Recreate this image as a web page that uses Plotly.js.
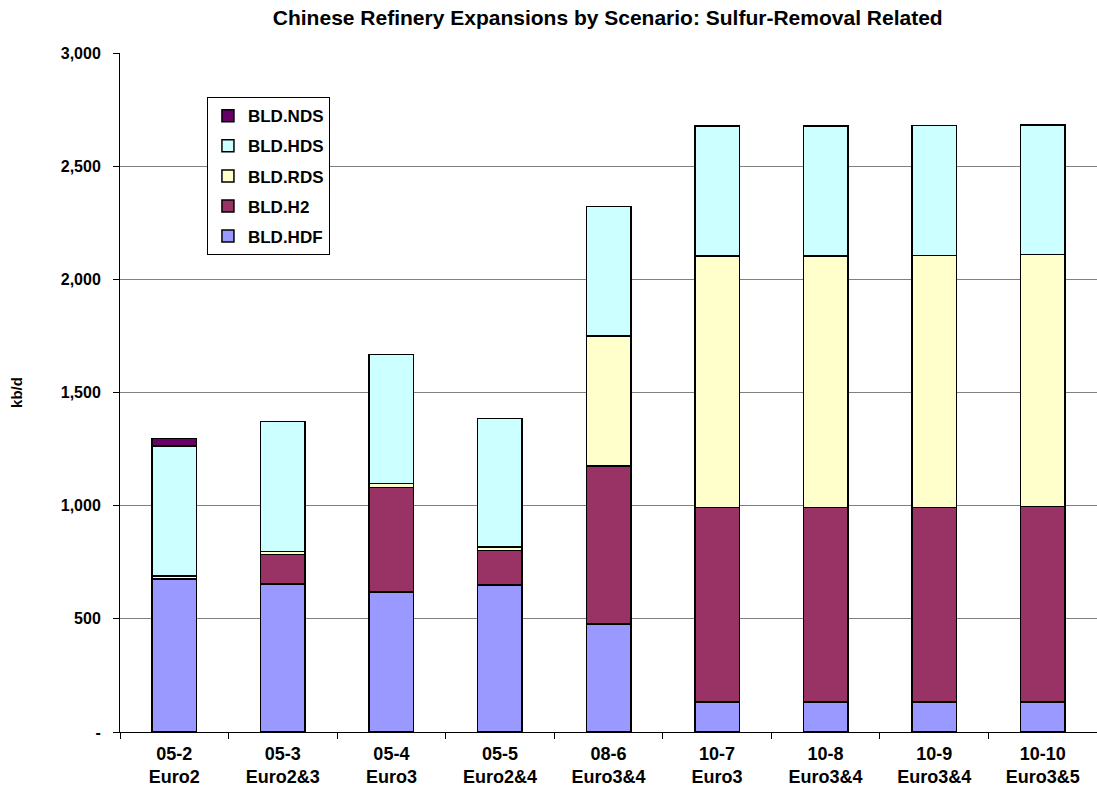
<!DOCTYPE html>
<html>
<head>
<meta charset="utf-8">
<script src="https://cdn.plot.ly/plotly-3.0.1.min.js"></script>
<style>html,body{margin:0;padding:0;background:#fff;}#chart{width:1097px;height:802px;}</style>
</head>
<body>
<div id="chart"></div>
<script>
const categories = ["05-2<br>Euro2","05-3<br>Euro2&3","05-4<br>Euro3","05-5<br>Euro2&4","08-6<br>Euro3&4","10-7<br>Euro3","10-8<br>Euro3&4","10-9<br>Euro3&4","10-10<br>Euro3&5"];
const bldHDF = [675, 655, 618, 649, 478, 132, 132, 132, 132];
const bldH2  = [4, 130, 462, 153, 697, 859, 859, 860, 865];
const bldRDS = [10, 13, 17, 15, 574, 1112, 1112, 1113, 1113];
const bldHDS = [574, 573, 572, 569, 573, 575, 575, 575, 572];
const bldNDS = [33, 0, 0, 0, 0, 0, 0, 0, 0];
const yTickVals = [0, 500, 1000, 1500, 2000, 2500, 3000];
const yTickText = ["-", "500", "1,000", "1,500", "2,000", "2,500", "3,000"];

const FONT = "Liberation Sans, Arial, sans-serif";
function tr(name, y, color, grp, rank) {
  return {type: "bar", name: name, x: categories, y: y, legendgroup: grp, legendrank: rank,
    marker: {color: color, line: {color: "#000", width: 1.5}}, hoverinfo: "y+name"};
}
const data = [
  tr("BLD.HDF", bldHDF, "#9999FF", "a", 5),
  tr("BLD.H2", bldH2, "#993366", "b", 4),
  tr("BLD.RDS", bldRDS, "#FFFFCC", "c", 3),
  tr("BLD.HDS", bldHDS, "#CCFFFF", "d", 2),
  tr("BLD.NDS", bldNDS, "#660066", "e", 1)
];
const layout = {
  width: 1097, height: 802,
  paper_bgcolor: "#fff", plot_bgcolor: "#fff",
  barmode: "stack", bargap: 0.59,
  margin: {l: 120, r: 0, t: 53, b: 70},
  font: {family: FONT, color: "#000", size: 15, weight: "bold"},
  title: {text: "Chinese Refinery Expansions by Scenario: Sulfur-Removal Related",
    font: {family: FONT, size: 21, weight: "bold", color: "#000"},
    x: 0.554, xanchor: "center", y: 0.978, yanchor: "middle"},
  xaxis: {type: "category", tickson: "boundaries", ticks: "outside", ticklen: 6,
    tickcolor: "#000", showline: true, linecolor: "#000", linewidth: 1,
    ticklabelstandoff: 5,
    tickfont: {family: FONT, size: 18, weight: "bold"}, showgrid: false},
  yaxis: {range: [0, 3000], tickvals: yTickVals, ticktext: yTickText,
    ticks: "outside", ticklen: 6, tickcolor: "#000", showline: true, linecolor: "#000",
    linewidth: 1, showgrid: true, gridcolor: "#808080", gridwidth: 1, zeroline: false,
    ticklabelstandoff: 9,
    tickfont: {family: FONT, size: 16, weight: "bold"},
    title: {text: "kb/d", font: {family: FONT, size: 15, weight: "bold"}, standoff: 34}},
  legend: {x: 0.089, y: 0.935, xanchor: "left", yanchor: "top",
    traceorder: "grouped", tracegroupgap: 5,
    bgcolor: "#fff", bordercolor: "#000", borderwidth: 1,
    font: {family: FONT, size: 17, weight: "bold"}}
};
Plotly.newPlot("chart", data, layout, {displayModeBar: false});
</script>
</body>
</html>
